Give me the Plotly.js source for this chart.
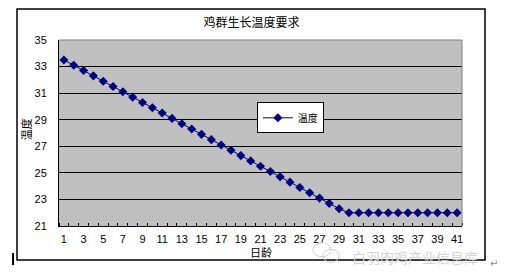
<!DOCTYPE html>
<html>
<head>
<meta charset="utf-8">
<script src="https://cdn.plot.ly/plotly-3.0.1.min.js"></script>
<style>
html,body{margin:0;padding:0;background:#fff;}
#chart{width:506px;height:274px;}
</style>
</head>
<body>
<div id="chart"></div>
<script>
// Data
const days = [1,2,3,4,5,6,7,8,9,10,11,12,13,14,15,16,17,18,19,20,21,22,23,24,25,26,27,28,29,30,31,32,33,34,35,36,37,38,39,40,41];
const temperature = [33.5,33.1,32.7,32.3,31.9,31.5,31.1,30.7,30.3,29.9,29.5,29.1,28.7,28.3,27.9,27.5,27.1,26.7,26.3,25.9,25.5,25.1,24.7,24.3,23.9,23.5,23.1,22.7,22.3,22,22,22,22,22,22,22,22,22,22,22,22];
const xTickLabels = [1,3,5,7,9,11,13,15,17,19,21,23,25,27,29,31,33,35,37,39,41];
const yTickLabels = [21,23,25,27,29,31,33,35];
const chartTitle = '鸡群生长温度要求';
const seriesName = '温度';
const xTitle = '日龄';
const yTitle = '温度';
const watermark = '白羽肉鸡产业信息库';

const tickFont = {family: 'Liberation Sans, Arial, sans-serif', size: 11, color: '#000'};
const cjk = 'Noto Sans CJK SC, sans-serif';

const trace = {
  x: days, y: temperature, name: seriesName,
  type: 'scatter', mode: 'lines+markers',
  line: {color: '#000080', width: 1},
  marker: {symbol: 'diamond', size: 7, color: '#000080'},
  showlegend: true
};

const layout = {
  width: 506, height: 274,
  margin: {l: 59, r: 44, t: 40, b: 48},
  paper_bgcolor: '#ffffff',
  plot_bgcolor: '#c0c0c0',
  font: {family: cjk, color: '#000'},
  title: {text: chartTitle, font: {family: cjk, size: 12, color: '#000'}, x: 0.497, xanchor: 'center', y: 0.915, yanchor: 'middle'},
  xaxis: {
    range: [0.5, 41.5], tickmode: 'array', tickvals: xTickLabels, ticktext: xTickLabels.map(String),
    ticks: '', showgrid: false, zeroline: false,
    showline: true, linecolor: '#000', linewidth: 1,
    tickfont: tickFont, ticklabelstandoff: 3,
    minor: {tick0: 0.5, dtick: 1, ticks: 'inside', ticklen: 3, tickcolor: '#000', tickwidth: 1, showgrid: false},
    fixedrange: true
  },
  yaxis: {
    range: [21, 35], tickmode: 'array', tickvals: yTickLabels, ticktext: yTickLabels.map(String),
    ticks: '', showgrid: true, gridcolor: '#000', gridwidth: 1, zeroline: false,
    showline: true, linecolor: '#000', linewidth: 1,
    tickfont: tickFont, ticklabelstandoff: 9,
    fixedrange: true
  },
  legend: {
    x: 0.491, y: 0.665, xanchor: 'left', yanchor: 'top',
    bgcolor: '#ffffff', bordercolor: '#000', borderwidth: 1,
    font: {family: cjk, size: 10, color: '#000'},
    itemwidth: 30, tracegroupgap: 0
  },
  shapes: [
    {type: 'line', xref: 'paper', yref: 'paper', x0: 0, x1: 1, y0: 1, y1: 1, line: {color: '#808080', width: 1}},
    {type: 'line', xref: 'paper', yref: 'paper', x0: 1, x1: 1, y0: 0, y1: 1, line: {color: '#808080', width: 1}},
    {type: 'rect', xref: 'paper', yref: 'paper', x0: -0.1042, x1: 1.0571, y0: -0.1828, y1: 1.1667, line: {color: '#000', width: 1.5}, layer: 'below'},
    {type: 'line', xref: 'paper', yref: 'paper', x0: -0.114, x1: -0.114, y0: -0.145, y1: -0.21, line: {color: '#000', width: 2}},
    {type: 'circle', xref: 'paper', yref: 'paper', x0: 0.63, x1: 0.675, y0: -0.165, y1: -0.09, line: {color: '#d0d0d0', width: 1}},
    {type: 'circle', xref: 'paper', yref: 'paper', x0: 0.655, x1: 0.695, y0: -0.195, y1: -0.125, line: {color: '#d0d0d0', width: 1}}
  ],
  annotations: [
    {text: yTitle, xref: 'paper', yref: 'paper', x: -0.082, y: 0.52, xanchor: 'center', yanchor: 'middle', textangle: -90, showarrow: false,
     font: {family: cjk, size: 11, color: '#000'}},
    {text: xTitle, xref: 'paper', yref: 'paper', x: 0.5, y: -0.14, xanchor: 'center', yanchor: 'middle', showarrow: false,
     font: {family: cjk, size: 11, color: '#000'}},
    {text: watermark, xref: 'paper', yref: 'paper', x: 0.722, y: -0.165, xanchor: 'left', yanchor: 'middle', showarrow: false,
     font: {family: cjk, size: 14, color: '#d4d4d4'}},
    {text: '↵', xref: 'paper', yref: 'paper', x: 1.08, y: -0.2, xanchor: 'center', yanchor: 'middle', showarrow: false,
     font: {family: 'DejaVu Sans', size: 10, color: '#888'}}
  ]
};

Plotly.newPlot('chart', [trace], layout, {displayModeBar: false, staticPlot: true});
</script>
</body>
</html>
